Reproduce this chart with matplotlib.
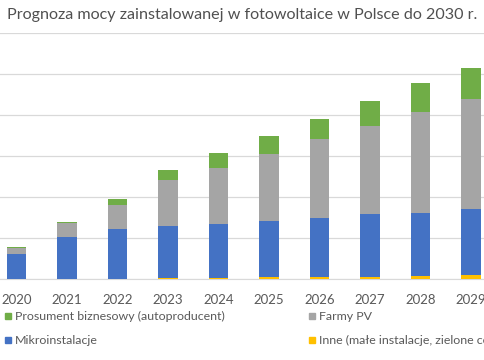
import matplotlib.pyplot as plt
from matplotlib.patches import Rectangle
import numpy as np

plt.rcParams['font.family'] = ['Lato', 'DejaVu Sans']

years = ['2020', '2021', '2022', '2023', '2024', '2025', '2026', '2027', '2028', '2029']

# GW (od dołu stosu)
inne = [0.02, 0.03, 0.05, 0.12, 0.15, 0.2, 0.25, 0.3, 0.35, 0.45]
mikro = [3.0, 5.05, 6.05, 6.3, 6.6, 6.9, 7.25, 7.6, 7.75, 8.05]
farmy = [0.73, 1.7, 2.9, 5.6, 6.8, 8.1, 9.55, 10.8, 12.3, 13.5]
prosument = [0.12, 0.15, 0.8, 1.34, 1.8, 2.3, 2.5, 3.0, 3.5, 3.8]

labels = ['Prosument biznesowy (autoproducent)', 'Farmy PV',
          'Mikroinstalacje', 'Inne (małe instalacje, zielone certyfikaty)']
colors = {'prosument': '#70AD47', 'farmy': '#A5A5A5', 'mikro': '#4472C4', 'inne': '#FFC000'}

fig = plt.figure(figsize=(4.85, 3.6), dpi=100)
ax = fig.add_axes([0, 0.225, 1, 0.683])

x = np.arange(len(years))
w = 0.386
b = np.zeros(len(years))
for vals, key in [(inne, 'inne'), (mikro, 'mikro'), (farmy, 'farmy'), (prosument, 'prosument')]:
    ax.bar(x, vals, w, bottom=b, color=colors[key], zorder=3)
    b += np.array(vals)

ax.set_xlim(-0.323, 9.28)
ax.set_ylim(0, 30)
ax.set_yticks(np.arange(0, 31, 5))
ax.yaxis.grid(True, color='#D9D9D9', linewidth=0.9, zorder=0)
ax.tick_params(axis='y', left=False, labelleft=False)
ax.tick_params(axis='x', bottom=False, labelsize=9.5, labelcolor='#595959', pad=7)
ax.set_xticks(x)
ax.set_xticklabels(years)
for s in ['left', 'right', 'top']:
    ax.spines[s].set_visible(False)
ax.spines['bottom'].set_color('#D9D9D9')

fig.text(0.5, 0.958, 'Prognoza mocy zainstalowanej w fotowoltaice w Polsce do 2030 r.',
         ha='center', va='center', fontsize=11.6, color='#505050')

# legenda
W, H = 485, 360
leg = [(labels[0], colors['prosument'], 5, 316),
       (labels[1], colors['farmy'], 309, 316),
       (labels[2], colors['mikro'], 5, 340),
       (labels[3], colors['inne'], 309, 340)]
for txt, c, px, py in leg:
    fig.patches.append(Rectangle((px / W, (H - py - 3) / H), 6 / W, 6 / H,
                                 transform=fig.transFigure, color=c))
    fig.text((px + 10) / W, (H - py) / H, txt, ha='left', va='center',
             fontsize=8.9, color='#595959')

fig.savefig('out.png', dpi=100)
